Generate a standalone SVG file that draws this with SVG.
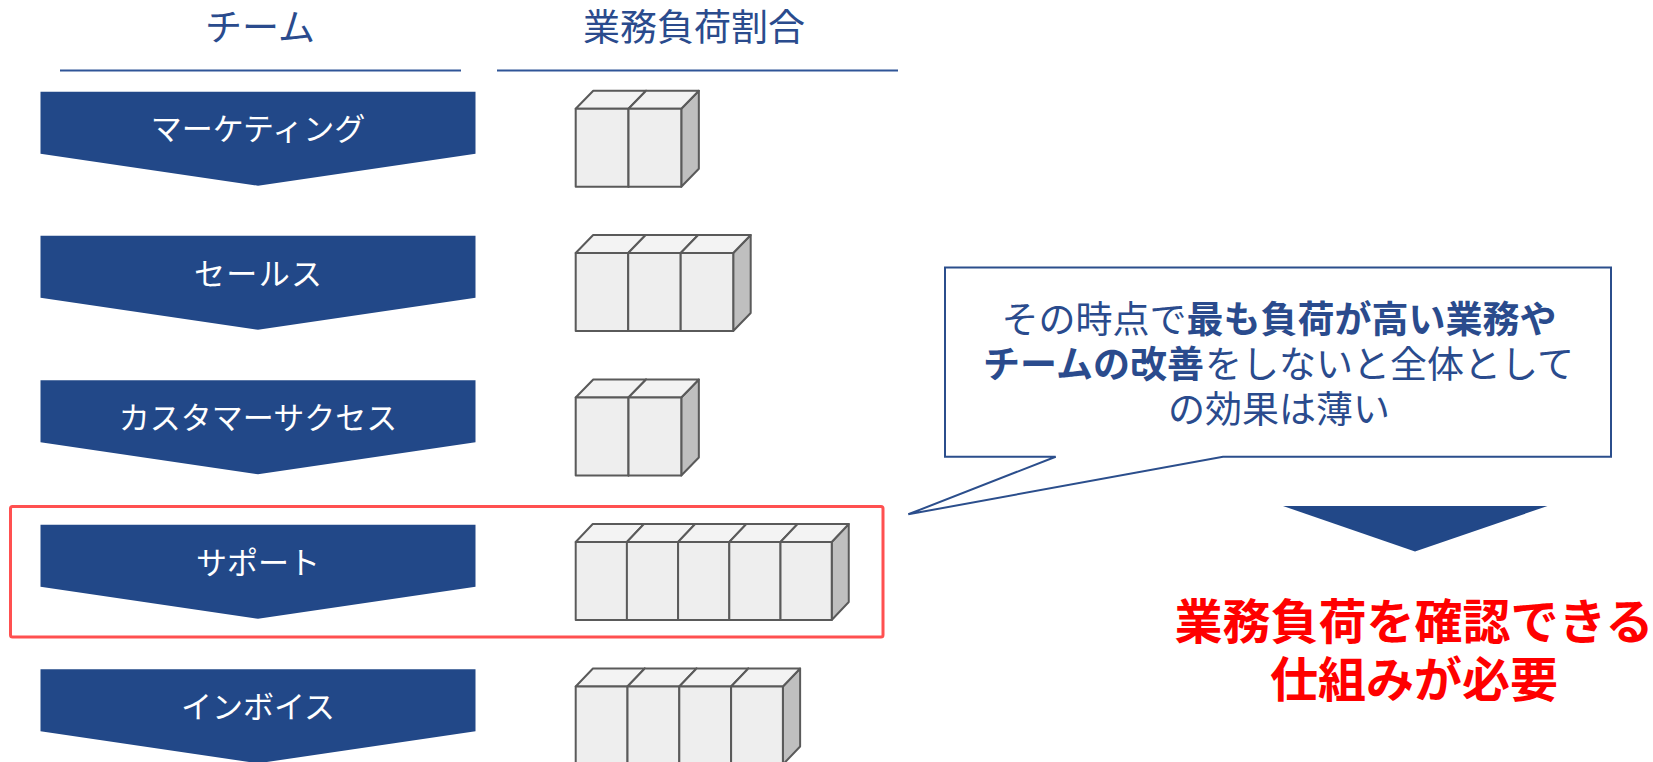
<svg xmlns="http://www.w3.org/2000/svg" width="1653" height="762" viewBox="0 0 1653 762">
<style>
.hdr{font-family:"Noto Sans CJK JP","Noto Sans",sans-serif;font-size:37px;fill:#2A4B8D;text-anchor:middle}
.hline{stroke:#2F5597;stroke-width:2;fill:none}
.chev{fill:#224888}
.lbl{font-family:"Noto Sans CJK JP","Noto Sans",sans-serif;font-size:31px;fill:#FFFFFF;text-anchor:middle}
.cf{fill:#EEEEEE;stroke:#5A5A5A;stroke-width:2;stroke-linejoin:round}
.ct{fill:#F3F3F3;stroke:#5A5A5A;stroke-width:2;stroke-linejoin:round}
.cs{fill:#BFBFBF;stroke:#5A5A5A;stroke-width:2;stroke-linejoin:round}
.call{fill:#FFFFFF;stroke:#2B4E8C;stroke-width:2;stroke-linejoin:miter}
.ctext{font-family:"Noto Sans CJK JP","Noto Sans",sans-serif;font-size:37px;fill:#2A4B8D;text-anchor:start}
.b{font-weight:bold}
.red{font-family:"Noto Sans CJK JP","Noto Sans",sans-serif;font-size:48px;font-weight:bold;fill:#FF0000;text-anchor:middle}
</style>
<defs>
<g id="cube">
<polygon class="cs" points="52,18 69.3,0 69.3,78 52,96"/>
<polygon class="ct" points="0,18 17.3,0 69.3,0 52,18"/>
<rect class="cf" x="0" y="18" width="52" height="78"/>
</g>
<path id="chevShape" d="M0,0 H435 V62 L217.5,94 L0,62 Z"/>
</defs>
<rect width="1653" height="762" fill="#FFFFFF"/>

<g id="header">
<text class="hdr" x="260" y="41">チーム</text>
<text class="hdr" x="694" y="41">業務負荷割合</text>
<line class="hline" x1="60" y1="70.5" x2="461" y2="70.5"/>
<line class="hline" x1="497" y1="70.5" x2="898" y2="70.5"/>
</g>

<g id="highlight">
<rect x="10.5" y="506.5" width="872.5" height="130.5" rx="2" fill="none" stroke="#FF5050" stroke-width="3"/>
</g>

<g id="team-marketing">
<use href="#chevShape" class="chev" x="40.5" y="91.7"/>
<text class="lbl" x="258" y="140">マーケティング</text>
</g>
<g id="load-marketing">
<use href="#cube" transform="translate(575.7,90.7) scale(1.015,1)"/>
<use href="#cube" transform="translate(628.5,90.7) scale(1.015,1)"/>
</g>

<g id="team-sales">
<use href="#chevShape" class="chev" x="40.5" y="235.8"/>
<text class="lbl" x="258" y="284.5" textLength="128" lengthAdjust="spacing">セールス</text>
</g>
<g id="load-sales">
<use href="#cube" transform="translate(575.7,235) scale(1.01,1)"/>
<use href="#cube" transform="translate(628.2,235) scale(1.01,1)"/>
<use href="#cube" transform="translate(680.7,235) scale(1.01,1)"/>
</g>

<g id="team-cs">
<use href="#chevShape" class="chev" x="40.5" y="380.3"/>
<text class="lbl" x="258" y="429">カスタマーサクセス</text>
</g>
<g id="load-cs">
<use href="#cube" transform="translate(575.7,379.5) scale(1.015,1)"/>
<use href="#cube" transform="translate(628.5,379.5) scale(1.015,1)"/>
</g>

<g id="team-support">
<use href="#chevShape" class="chev" x="40.5" y="524.8"/>
<text class="lbl" x="258" y="573.5">サポート</text>
</g>
<g id="load-support">
<use href="#cube" transform="translate(575.7,524) scale(0.985,1)"/>
<use href="#cube" transform="translate(626.9,524) scale(0.985,1)"/>
<use href="#cube" transform="translate(678.1,524) scale(0.985,1)"/>
<use href="#cube" transform="translate(729.3,524) scale(0.985,1)"/>
<use href="#cube" transform="translate(780.5,524) scale(0.985,1)"/>
</g>

<g id="team-invoice">
<use href="#chevShape" class="chev" x="40.5" y="669.3"/>
<text class="lbl" x="258" y="718">インボイス</text>
</g>
<g id="load-invoice">
<use href="#cube" transform="translate(575.7,668.5) scale(0.996,1)"/>
<use href="#cube" transform="translate(627.5,668.5) scale(0.996,1)"/>
<use href="#cube" transform="translate(679.3,668.5) scale(0.996,1)"/>
<use href="#cube" transform="translate(731.1,668.5) scale(0.996,1)"/>
</g>

<g id="callout">
<path class="call" d="M945,267.5 H1611 V456.7 H1223 L908.3,514.3 L1055.7,456.7 H945 Z"/>
<text class="ctext" x="1001.5" y="333">その時点で</text>
<text class="ctext b" x="1186.5" y="333">最も負荷が高い業務や</text>
<text class="ctext b" x="983" y="378">チームの改善</text>
<text class="ctext" x="1205" y="378">をしないと全体として</text>
<text class="ctext" x="1168" y="423">の効果は薄い</text>
</g>

<g id="result-arrow">
<polygon class="chev" points="1283,506 1547.5,506 1415,551.5"/>
</g>

<g id="conclusion">
<text class="red" x="1414" y="639">業務負荷を確認できる</text>
<text class="red" x="1414" y="697">仕組みが必要</text>
</g>
</svg>
